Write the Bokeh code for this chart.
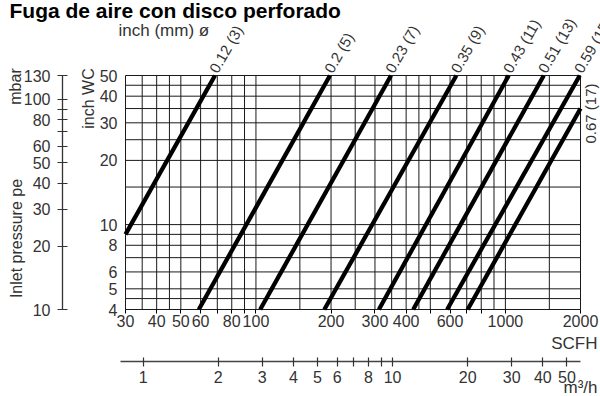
import math
from bokeh.plotting import figure
from bokeh.models import (Range1d, LogScale, LogAxis, FixedTicker,
                          PrintfTickFormatter)
from bokeh.core.properties import value
from bokeh.embed import file_html
from bokeh.resources import INLINE

FONT = "Liberation Sans"
TXT = "#333333"

# ---------------- data ----------------
title_text = "Fuga de aire con disco perforado"
orifice_header = "inch (mm) ø"
label_mbar = "mbar"
label_inlet = "Inlet pressure pe"
label_inchwc = "inch WC"
label_scfh = "SCFH"
label_m3h = "m³/h"

SCFH_MIN, SCFH_MAX = 30, 2000
WC_MIN, WC_MAX = 4, 50
MBAR_MIN, MBAR_MAX = 10, 130
SCFH_PER_M3H = 35.31

scfh_labeled = [30, 40, 50, 60, 80, 100, 200, 300, 400, 600, 1000, 2000]
scfh_minor = [70, 90, 500, 700, 800]
inchwc_labeled = [4, 5, 6, 8, 10, 20, 30, 40, 50]
mbar_labeled = [10, 20, 30, 40, 50, 60, 80, 100, 130]
mbar_minor = [70, 90]
m3h_labeled = [1, 2, 3, 4, 5, 6, 8, 10, 20, 30, 40, 50]
m3h_minor = [7, 9]
grid_scfh = [30, 35, 40, 45, 50, 60, 70, 80, 90, 100, 150, 200, 250, 300, 350,
             400, 450, 500, 600, 700, 800, 900, 1000, 1500, 2000]
grid_inchwc = [4, 4.5, 5, 6, 7, 8, 9, 10, 15, 20, 25, 30, 35, 40, 45, 50]

orifice = ["0.12 (3)", "0.2 (5)", "0.23 (7)", "0.35 (9)", "0.43 (11)",
           "0.51 (13)", "0.59 (15)", "0.67 (17)"]
flow_start = [30, 59, 104, 188, 311, 427, 584, 706]
inchwc_start = [9.0, 4, 4, 4, 4, 4, 4, 4]
flow_end = [68.5, 198, 348, 636, 1031, 1425, 1986, 2000]
inchwc_end = [50, 50, 50, 50, 50, 50, 50, 35]

# ---------------- layout (pixels) ----------------
W, H = 600, 396
PLOT_L, PLOT_R, PLOT_T, PLOT_B = 125, 580, 75, 309
MBAR_AXIS_X = 62
M3H_AXIS_Y = 361

X_DEC = (PLOT_R - PLOT_L) / math.log10(SCFH_MAX / SCFH_MIN)
Y_DEC = (PLOT_B - PLOT_T) / math.log10(WC_MAX / WC_MIN)
M_DEC = (PLOT_B - PLOT_T) / math.log10(MBAR_MAX / MBAR_MIN)


def x_at(px):
    return SCFH_MIN * 10 ** ((px - PLOT_L) / X_DEC)


def px_x(v):
    return PLOT_L + X_DEC * math.log10(v / SCFH_MIN)


def y_at(py):
    return WC_MIN * 10 ** ((PLOT_B - py) / Y_DEC)


def px_y(v):
    return PLOT_B - Y_DEC * math.log10(v / WC_MIN)


p = figure(width=W, height=H, x_axis_type="log", y_axis_type="log",
           x_range=Range1d(x_at(0), x_at(W)), y_range=Range1d(y_at(H), y_at(0)),
           x_axis_location=None, y_axis_location=None, title_location=None,
           output_backend="svg", toolbar_location=None,
           min_border=0, min_border_left=0, min_border_right=0,
           min_border_top=0, min_border_bottom=0)
p.outline_line_color = None
p.background_fill_color = "white"
p.border_fill_color = "white"
p.xgrid.visible = False
p.ygrid.visible = False

p.extra_y_ranges = {"mbar": Range1d(MBAR_MIN * 10 ** (-(H - PLOT_B) / M_DEC),
                                    MBAR_MAX * 10 ** (PLOT_T / M_DEC))}
p.extra_y_scales = {"mbar": LogScale()}
p.extra_x_ranges = {"m3h": Range1d(x_at(0) / SCFH_PER_M3H, x_at(W) / SCFH_PER_M3H)}
p.extra_x_scales = {"m3h": LogScale()}

# ---------------- grid & frame ----------------
GRID = "#1a1a1a"
p.segment(x0=grid_scfh, y0=[WC_MIN] * len(grid_scfh), x1=grid_scfh,
          y1=[WC_MAX] * len(grid_scfh), line_color=GRID, line_width=1)
p.segment(x0=[SCFH_MIN] * len(grid_inchwc), y0=grid_inchwc,
          x1=[SCFH_MAX] * len(grid_inchwc), y1=grid_inchwc, line_color=GRID, line_width=1)

# ---------------- flow lines ----------------
p.segment(x0=flow_start, y0=inchwc_start, x1=flow_end, y1=inchwc_end,
          line_color="black", line_width=4.3, line_cap="butt")


def style(ax, size="16px"):
    ax.major_label_text_font = FONT
    ax.major_label_text_font_size = size
    ax.major_label_text_color = TXT
    ax.formatter = PrintfTickFormatter(format="%d")


# SCFH axis
xa = LogAxis(fixed_location=WC_MIN, bounds=(SCFH_MIN, SCFH_MAX),
             ticker=FixedTicker(ticks=scfh_labeled, minor_ticks=scfh_minor))
style(xa)
xa.axis_line_color = None
xa.major_tick_out = 4
xa.major_tick_in = 0
xa.minor_tick_out = 4
xa.minor_tick_in = 0
xa.major_tick_line_color = "black"
xa.minor_tick_line_color = "black"
xa.major_label_standoff = 1
p.add_layout(xa, "below")

# inch WC axis
ya = LogAxis(fixed_location=SCFH_MIN, bounds=(WC_MIN, WC_MAX),
             ticker=FixedTicker(ticks=inchwc_labeled))
style(ya)
ya.axis_line_color = None
ya.major_tick_out = 0
ya.major_tick_in = 0
ya.major_tick_line_color = None
ya.minor_tick_line_color = None
ya.major_label_standoff = 8
p.add_layout(ya, "left")

# mbar axis
mbar_axis = LogAxis(y_range_name="mbar", fixed_location=x_at(MBAR_AXIS_X),
                    bounds=(MBAR_MIN, MBAR_MAX),
                    ticker=FixedTicker(ticks=mbar_labeled, minor_ticks=mbar_minor))
style(mbar_axis)
mbar_axis.axis_line_color = "#333333"
mbar_axis.axis_line_width = 1.3
mbar_axis.major_tick_line_color = "#333333"
mbar_axis.minor_tick_line_color = "#333333"
mbar_axis.major_tick_line_width = 1.2
mbar_axis.minor_tick_line_width = 1.2
mbar_axis.major_tick_in = 5
mbar_axis.major_tick_out = 5
mbar_axis.minor_tick_in = 5
mbar_axis.minor_tick_out = 5
mbar_axis.major_label_standoff = 7
p.add_layout(mbar_axis, "left")

# m3/h axis
m3h_axis = LogAxis(x_range_name="m3h", fixed_location=y_at(M3H_AXIS_Y),
                   bounds=(x_at(PLOT_L - 5) / SCFH_PER_M3H, SCFH_MAX / SCFH_PER_M3H),
                   ticker=FixedTicker(ticks=m3h_labeled, minor_ticks=m3h_minor))
style(m3h_axis)
m3h_axis.axis_line_color = "#444444"
m3h_axis.axis_line_width = 1.5
m3h_axis.major_tick_line_color = "#333333"
m3h_axis.minor_tick_line_color = "#333333"
m3h_axis.major_tick_line_width = 1.2
m3h_axis.minor_tick_line_width = 1.2
m3h_axis.major_tick_in = 4
m3h_axis.major_tick_out = 5
m3h_axis.minor_tick_in = 4
m3h_axis.minor_tick_out = 5
m3h_axis.major_label_standoff = 4
p.add_layout(m3h_axis, "below")


# ---------------- texts ----------------
def txt(texts, xs, ys, size="16px", **kw):
    opts = dict(text_font=value(FONT), text_font_size=value(size), text_color=TXT,
                text_align="left", text_baseline="middle")
    opts.update(kw)
    p.text(x=xs, y=ys, text=texts, **opts)


top_names = [n for n, w in zip(orifice, inchwc_end) if w >= WC_MAX]
top_x = [x_at(px_x(f) - 2) for f, w in zip(flow_end, inchwc_end) if w >= WC_MAX]
txt(top_names, top_x, [y_at(PLOT_T - 4)] * len(top_names), size="15px",
    angle=60, angle_units="deg")

side_names = [n for n, w in zip(orifice, inchwc_end) if w < WC_MAX]
side_y = [y_at(px_y(w) + 5) for w in inchwc_end if w < WC_MAX]
txt(side_names, [x_at(PLOT_R + 10)] * len(side_names), side_y, size="15px",
    angle=90, angle_units="deg", text_align="center")

txt([title_text], [x_at(9)], [y_at(10)], size="21px", text_font_style="bold",
    text_color="black", text_baseline="alphabetic")
txt([orifice_header], [x_at(118)], [y_at(30)], size="17px")
txt([label_mbar, label_inlet, label_inchwc], [x_at(15), x_at(16), x_at(88)],
    [y_at(86), y_at(238), y_at(98)], angle=90, angle_units="deg", text_align="center")
txt([label_scfh, label_m3h], [x_at(597), x_at(597)], [y_at(343), y_at(387)],
    size="17px", text_align="right")

open("out.html", "w").write(file_html(p, INLINE))
